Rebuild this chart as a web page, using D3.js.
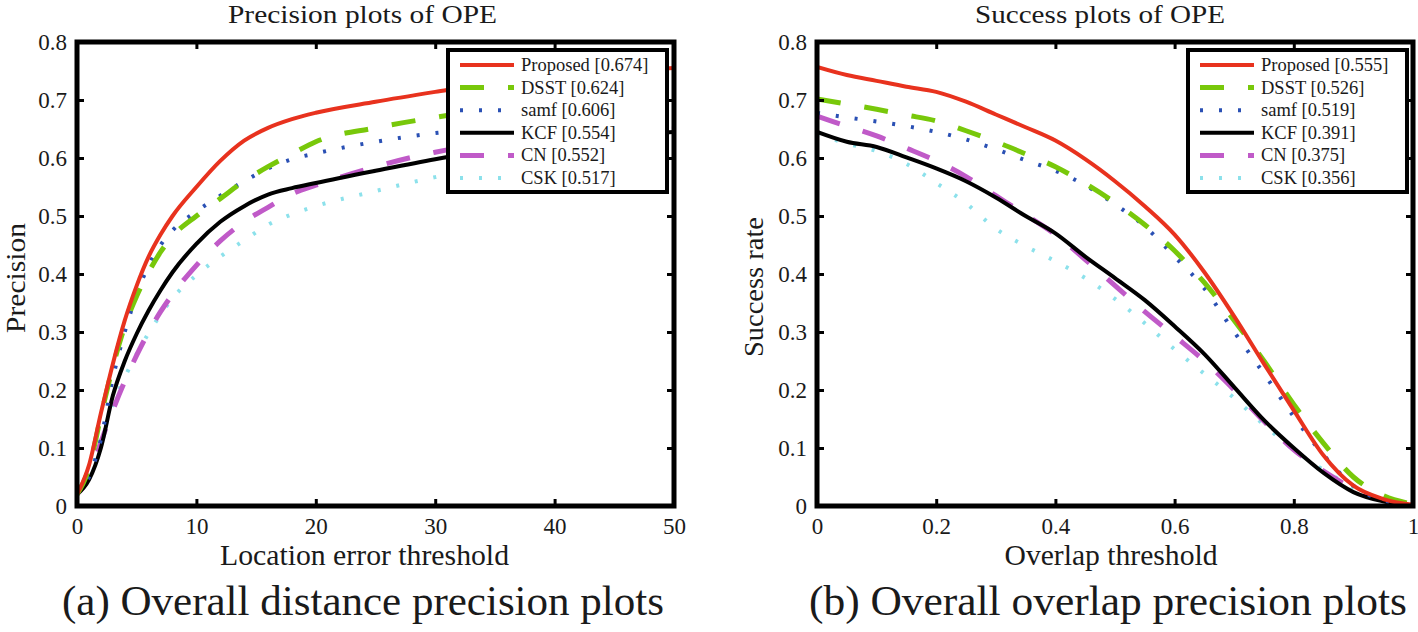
<!DOCTYPE html>
<html><head><meta charset="utf-8">
<script src="https://cdn.jsdelivr.net/npm/d3@7"></script>
<style>
html,body{margin:0;padding:0;background:#fff;}
svg, svg text{font-family:"Liberation Serif","Times New Roman",Times,serif;}
</style></head><body>
<svg id="chart" width="1418" height="632"></svg>
<script>
// ---------------- data ----------------
const methods = ["Proposed", "DSST", "samf", "KCF", "CN", "CSK"];
const precisionScores = ["0.674", "0.624", "0.606", "0.554", "0.552", "0.517"];
const successScores = ["0.555", "0.526", "0.519", "0.391", "0.375", "0.356"];

const locThresholds = [0,1,2,3,4,5,6,7,8,10,12,14,16,18,20,25,30,35,40,45,50];
const precProposed = [0.02,0.07,0.16,0.245,0.32,0.38,0.43,0.468,0.5,0.55,0.595,0.63,0.652,0.667,0.678,0.697,0.714,0.73,0.742,0.75,0.755];
const precDSST     = [0.02,0.065,0.155,0.24,0.31,0.362,0.403,0.438,0.465,0.5,0.53,0.56,0.585,0.607,0.628,0.652,0.67,0.685,0.695,0.705,0.714];
const precSamf     = [0.02,0.05,0.115,0.22,0.3,0.365,0.415,0.45,0.475,0.508,0.535,0.56,0.582,0.598,0.608,0.628,0.643,0.652,0.656,0.658,0.66];
const precKCF      = [0.02,0.045,0.1,0.19,0.25,0.297,0.337,0.372,0.403,0.452,0.49,0.517,0.537,0.548,0.557,0.578,0.598,0.615,0.628,0.638,0.645];
const precCN       = [0.02,0.05,0.11,0.165,0.215,0.26,0.3,0.335,0.365,0.415,0.457,0.49,0.515,0.538,0.553,0.585,0.61,0.627,0.638,0.645,0.65];
const precCSK      = [0.02,0.05,0.115,0.175,0.222,0.262,0.298,0.33,0.358,0.398,0.43,0.458,0.485,0.503,0.517,0.543,0.567,0.585,0.6,0.61,0.618];

const overlapThresholds = [0,0.05,0.1,0.15,0.2,0.25,0.3,0.35,0.4,0.45,0.5,0.55,0.6,0.65,0.7,0.75,0.8,0.85,0.9,0.95,1];
const succProposed = [0.757,0.743,0.733,0.723,0.714,0.697,0.675,0.653,0.63,0.598,0.56,0.517,0.468,0.403,0.327,0.245,0.165,0.087,0.035,0.012,0.002];
const succDSST     = [0.702,0.693,0.684,0.674,0.664,0.647,0.628,0.607,0.585,0.556,0.523,0.485,0.44,0.385,0.32,0.25,0.175,0.108,0.05,0.018,0.003];
const succSamf     = [0.678,0.67,0.663,0.655,0.645,0.632,0.615,0.596,0.578,0.553,0.52,0.482,0.43,0.375,0.3,0.228,0.154,0.088,0.035,0.01,0.002];
const succKCF      = [0.645,0.628,0.619,0.601,0.582,0.56,0.532,0.5,0.47,0.43,0.393,0.355,0.31,0.262,0.205,0.148,0.1,0.057,0.024,0.008,0.001];
const succCN       = [0.672,0.655,0.638,0.617,0.595,0.568,0.535,0.502,0.468,0.425,0.38,0.335,0.293,0.25,0.2,0.146,0.097,0.06,0.03,0.01,0.002];
const succCSK      = [0.642,0.625,0.612,0.59,0.557,0.522,0.478,0.448,0.422,0.393,0.357,0.315,0.27,0.228,0.186,0.14,0.097,0.062,0.032,0.012,0.002];

const precXTicks = [0,10,20,30,40,50];
const precXTickLabels = ["0","10","20","30","40","50"];
const succXTicks = [0,0.2,0.4,0.6,0.8,1];
const succXTickLabels = ["0","0.2","0.4","0.6","0.8","1"];
const yTickValues = [0,0.1,0.2,0.3,0.4,0.5,0.6,0.7,0.8];
const yTickLabels = ["0","0.1","0.2","0.3","0.4","0.5","0.6","0.7","0.8"];

// ---------------- styles ----------------
const FONT = '"Liberation Serif","Times New Roman",Times,serif';
const seriesStyle = [
  {color:"#e8321e", width:4,   dash:null},
  {color:"#78c80a", width:5,   dash:"24,24"},
  {color:"#2a50b4", width:4,   dash:"3,16"},
  {color:"#000000", width:4,   dash:null},
  {color:"#c05ac8", width:5,   dash:"24,24"},
  {color:"#8ce1eb", width:4,   dash:"3,16"}
];
const txtColor = "#1a1a1a";

const svg = d3.select("#chart").attr("font-family", FONT);

function addText(x, y, str, size, opts={}) {
  const t = svg.append("text")
    .attr("x", x).attr("y", y)
    .attr("font-family", FONT)
    .attr("font-size", size)
    .attr("fill", txtColor)
    .attr("text-anchor", opts.anchor || "middle")
    .text(str);
  if (opts.len) t.attr("textLength", opts.len).attr("lengthAdjust", "spacingAndGlyphs");
  if (opts.rotate) t.attr("transform", `rotate(-90,${x},${y})`);
  return t;
}

function panel(cfg) {
  const x = d3.scaleLinear().domain(cfg.xDomain).range([cfg.x0, cfg.x1]);
  const y = d3.scaleLinear().domain([0, 0.8]).range([cfg.y1, cfg.y0]);
  const g = svg.append("g");

  const clipId = "clip" + cfg.id;
  svg.append("clipPath").attr("id", clipId).append("rect")
    .attr("x", cfg.x0).attr("y", cfg.y0).attr("width", cfg.x1 - cfg.x0).attr("height", cfg.y1 - cfg.y0);

  const line = d3.line()
    .x((d, i) => x(cfg.thresholds[i]))
    .y(d => y(d))
    .curve(d3.curveMonotoneX);

  const lines = g.append("g").attr("clip-path", `url(#${clipId})`);
  for (let i = cfg.series.length - 1; i >= 0; i--) {
    const st = seriesStyle[i];
    lines.append("path")
      .attr("d", line(cfg.series[i]))
      .attr("fill", "none")
      .attr("stroke", st.color)
      .attr("stroke-width", st.width)
      .attr("stroke-dasharray", st.dash)
      .attr("stroke-linejoin", "round");
  }

  function styleAxis(sel) {
    sel.attr("font-family", FONT);
    sel.select(".domain").remove();
    sel.selectAll(".tick line").attr("stroke", "#000").attr("stroke-width", 3);
    sel.selectAll(".tick text").attr("font-size", 23).attr("fill", txtColor).attr("font-family", FONT);
  }

  const xb = g.append("g").attr("transform", `translate(0,${cfg.y1})`)
    .call(d3.axisBottom(x).tickValues(cfg.xTicks).tickFormat((d, i) => cfg.xTickLabels[i])
      .tickSizeInner(-7).tickSizeOuter(0).tickPadding(12));
  styleAxis(xb);
  const xt = g.append("g").attr("transform", `translate(0,${cfg.y0})`)
    .call(d3.axisTop(x).tickValues(cfg.xTicks).tickFormat("").tickSizeInner(-7).tickSizeOuter(0));
  styleAxis(xt);
  const yl = g.append("g").attr("transform", `translate(${cfg.x0},0)`)
    .call(d3.axisLeft(y).tickValues(yTickValues).tickFormat((d, i) => yTickLabels[i])
      .tickSizeInner(-7).tickSizeOuter(0).tickPadding(10));
  styleAxis(yl);
  const yr = g.append("g").attr("transform", `translate(${cfg.x1},0)`)
    .call(d3.axisRight(y).tickValues(yTickValues).tickFormat("").tickSizeInner(-7).tickSizeOuter(0));
  styleAxis(yr);

  g.append("rect")
    .attr("x", cfg.x0).attr("y", cfg.y0)
    .attr("width", cfg.x1 - cfg.x0).attr("height", cfg.y1 - cfg.y0)
    .attr("fill", "none").attr("stroke", "#000").attr("stroke-width", 5);

  const lg = g.append("g");
  lg.append("rect")
    .attr("x", cfg.legX).attr("y", 50).attr("width", 219).attr("height", 142)
    .attr("fill", "#fff").attr("stroke", "#000").attr("stroke-width", 4);
  const rowY = d3.scalePoint().domain(methods).range([65, 178]);
  methods.forEach((m, i) => {
    const st = seriesStyle[i];
    const yy = rowY(m);
    lg.append("line")
      .attr("x1", cfg.legX + 12).attr("x2", cfg.legX + 66)
      .attr("y1", yy).attr("y2", yy)
      .attr("stroke", st.color).attr("stroke-width", st.width)
      .attr("stroke-dasharray", st.dash);
    lg.append("text")
      .attr("x", cfg.legX + 73).attr("y", yy + 6)
      .attr("font-family", FONT)
      .attr("font-size", 18.5).attr("fill", txtColor)
      .text(`${m} [${cfg.scores[i]}]`);
  });

  addText(cfg.titleX, 23, cfg.title, 26, {len: cfg.titleLen});
  addText(cfg.xLabelX, 565, cfg.xLabel, 29, {len: cfg.xLabelLen});
  addText(cfg.yLabelX, cfg.yLabelY, cfg.yLabel, 27.5, {rotate: true, len: cfg.yLabelLen});
  addText(cfg.capX, 615, cfg.caption, 42, {len: cfg.capLen});
}

panel({
  id: "L", xDomain: [0, 50], x0: 77, x1: 674, y0: 42, y1: 506,
  thresholds: locThresholds,
  series: [precProposed, precDSST, precSamf, precKCF, precCN, precCSK],
  scores: precisionScores,
  xTicks: precXTicks, xTickLabels: precXTickLabels,
  legX: 448,
  title: "Precision plots of OPE", titleX: 362.5, titleLen: 269,
  xLabel: "Location error threshold", xLabelX: 364.5, xLabelLen: 289,
  yLabel: "Precision", yLabelX: 25, yLabelY: 278, yLabelLen: 110,
  caption: "(a) Overall distance precision plots", capX: 363, capLen: 602
});

panel({
  id: "R", xDomain: [0, 1], x0: 817, x1: 1413, y0: 42, y1: 506,
  thresholds: overlapThresholds,
  series: [succProposed, succDSST, succSamf, succKCF, succCN, succCSK],
  scores: successScores,
  xTicks: succXTicks, xTickLabels: succXTickLabels,
  legX: 1188,
  title: "Success plots of OPE", titleX: 1100, titleLen: 250,
  xLabel: "Overlap threshold", xLabelX: 1111, xLabelLen: 213,
  yLabel: "Success rate", yLabelX: 763, yLabelY: 287, yLabelLen: 140,
  caption: "(b) Overall overlap precision plots", capX: 1108, capLen: 598
});
</script>
</body></html>
